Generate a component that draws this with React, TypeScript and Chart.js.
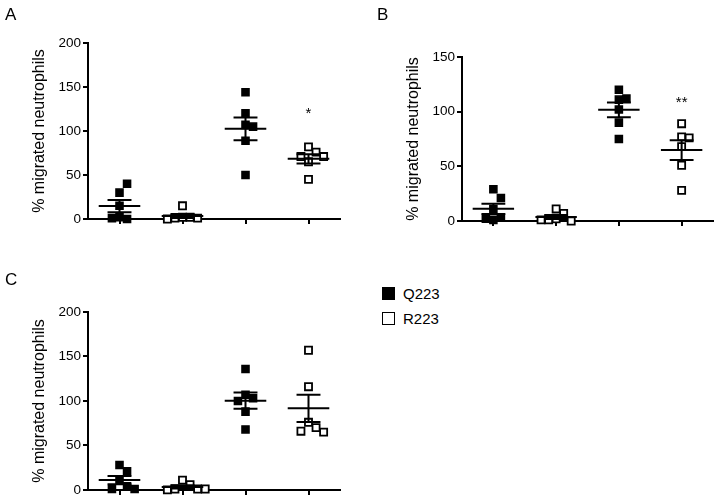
import React, { useEffect, useRef } from 'react';
import { Chart, registerables } from 'chart.js';

Chart.register(...registerables);

const FONT = '"Liberation Sans", Arial, Helvetica, sans-serif';

// Four groups per panel; genotype of each group (no x labels in the figure)
const groupGenotype = ['Q223', 'R223', 'Q223', 'R223'];

// Panel A values (% migrated neutrophils)
const A_g1 = [30, 40, 15, 2, 0, 1];
const A_g2 = [15, 2, 2, 1, 1, 0];
const A_g3 = [144, 120, 107, 105, 89, 50];
const A_g4 = [82, 76, 71, 71, 65, 45];

// Panel B values
const B_g1 = [29, 21, 11, 3, 1, 2];
const B_g2 = [11, 7, 2, 1, 0, 1];
const B_g3 = [120, 112, 111, 102, 90, 75];
const B_g4 = [89, 77, 76, 68, 51, 28];

// Panel C values
const C_g1 = [28, 21, 11, 4, 1, 1];
const C_g2 = [11, 6, 1, 1, 0, 1];
const C_g3 = [136, 107, 103, 100, 88, 68];
const C_g4 = [157, 116, 76, 70, 66, 65];

// Y axis maxima / steps
const yMaxA = 200;
const yMaxB = 150;
const yMaxC = 200;
const yStep = 50;

// Significance marks (label and value level) per group
const sigA = ['', '', '', '*'];
const sigLevelA = [0, 0, 0, 123];
const sigB = ['', '', '', '**'];
const sigLevelB = [0, 0, 0, 111];
const sigC = ['', '', '', ''];
const sigLevelC = [0, 0, 0, 0];

const legendItems = ['Q223', 'R223'];

function swarm(values: number[], center: number, thr: number, step: number) {
  const placed: { x: number; y: number }[] = [];
  const order = [0, 1, -1, 2, -2, 3, -3, 4, -4];
  for (const v of values) {
    for (const k of order) {
      const x = center + k * step;
      const hit = placed.some((p) => Math.abs(p.y - v) < thr && Math.abs(p.x - x) < step * 0.9);
      if (!hit) {
        placed.push({ x, y: v });
        break;
      }
    }
  }
  return placed;
}

function mean(a: number[]) {
  return a.reduce((s, v) => s + v, 0) / a.length;
}
function sem(a: number[]) {
  const m = mean(a);
  const v = a.reduce((s, x) => s + (x - m) * (x - m), 0) / (a.length - 1);
  return Math.sqrt(v) / Math.sqrt(a.length);
}

type PanelProps = {
  groups: number[][];
  yMax: number;
  sig: string[];
  sigLevel: number[];
  left: number;
  top: number;
  width: number;
  height: number;
  padding: { top: number; right: number; bottom: number; left: number };
};

function Panel({ groups, yMax, sig, sigLevel, left, top, width, height, padding }: PanelProps) {
  const ref = useRef<HTMLCanvasElement>(null);
  useEffect(() => {
    if (!ref.current) return;
    const thr = yMax * 0.06;
    const step = 0.12;
    const datasets = ['Q223', 'R223'].map((g) => {
      const pts: { x: number; y: number }[] = [];
      groups.forEach((vals, i) => {
        if (groupGenotype[i] === g) pts.push(...swarm(vals, i, thr, step));
      });
      const filled = g === 'Q223';
      return {
        label: g,
        data: pts,
        pointStyle: 'rect' as const,
        pointRadius: 5,
        pointHoverRadius: 5,
        backgroundColor: filled ? '#000' : '#fff',
        borderColor: '#000',
        borderWidth: filled ? 1.5 : 1.8,
        clip: false as const,
      };
    });

    const meanSem = {
      id: 'meanSem',
      afterDatasetsDraw(chart: any) {
        const { ctx } = chart;
        const xs = chart.scales.x;
        const ys = chart.scales.y;
        ctx.save();
        ctx.strokeStyle = '#000';
        ctx.lineWidth = 2;
        groups.forEach((vals, i) => {
          const m = mean(vals);
          const s = sem(vals);
          const cx = xs.getPixelForValue(i);
          const hw = xs.getPixelForValue(i + 0.33) - cx;
          const cw = xs.getPixelForValue(i + 0.19) - cx;
          const ym = ys.getPixelForValue(m);
          const yh = ys.getPixelForValue(m + s);
          const yl = ys.getPixelForValue(Math.max(m - s, 0));
          ctx.beginPath();
          ctx.moveTo(cx - hw, ym);
          ctx.lineTo(cx + hw, ym);
          ctx.moveTo(cx - cw, yh);
          ctx.lineTo(cx + cw, yh);
          ctx.moveTo(cx - cw, yl);
          ctx.lineTo(cx + cw, yl);
          ctx.moveTo(cx, yh);
          ctx.lineTo(cx, yl);
          ctx.stroke();
        });
        ctx.fillStyle = '#000';
        ctx.font = `15px ${FONT}`;
        ctx.textAlign = 'center';
        ctx.textBaseline = 'middle';
        sig.forEach((t, i) => {
          if (!t) return;
          ctx.fillText(t, xs.getPixelForValue(i), ys.getPixelForValue(sigLevel[i]) + 3);
        });
        ctx.restore();
      },
    };

    const chart = new Chart(ref.current, {
      type: 'scatter',
      data: { datasets },
      options: {
        animation: false,
        responsive: false,
        events: [],
        layout: { padding },
        plugins: { legend: { display: false }, tooltip: { enabled: false } },
        scales: {
          x: {
            type: 'linear',
            min: -0.5,
            max: 3.5,
            afterBuildTicks: (axis: any) => {
              axis.ticks = groupGenotype.map((_, i) => ({ value: i }));
            },
            afterFit: (s: any) => {
              s.height = 8;
            },
            ticks: { display: false },
            grid: {
              display: true,
              drawOnChartArea: false,
              drawTicks: true,
              tickLength: 5,
              color: '#000',
              lineWidth: 2,
            },
            border: { display: true, color: '#000', width: 2 },
          },
          y: {
            type: 'linear',
            min: 0,
            max: yMax,
            ticks: {
              stepSize: yStep,
              color: '#000',
              padding: 2,
              font: { family: FONT, size: 13.5 },
            },
            afterFit: (s: any) => {
              s.width = 88;
            },
            grid: {
              display: true,
              drawOnChartArea: false,
              drawTicks: true,
              tickLength: 5,
              color: '#000',
              lineWidth: 2,
            },
            border: { display: true, color: '#000', width: 2 },
            title: {
              display: true,
              text: '% migrated neutrophils',
              color: '#000',
              font: { family: FONT, size: 16 },
              padding: { top: 30, bottom: 0 },
            },
          },
        },
      },
      plugins: [meanSem],
    } as any);
    return () => chart.destroy();
  }, []);
  return (
    <canvas
      ref={ref}
      width={width}
      height={height}
      style={{ position: 'absolute', left, top, width, height }}
    />
  );
}

const labelStyle = (left: number, top: number): React.CSSProperties => ({
  position: 'absolute',
  left,
  top,
  fontFamily: FONT,
  fontSize: 17,
  lineHeight: 1,
  color: '#000',
});

export default function App() {
  useEffect(() => {
    document.body.style.margin = '0';
  }, []);
  return (
    <div style={{ position: 'relative', width: 720, height: 500, background: '#fff', overflow: 'hidden' }}>
      <Panel
        groups={[A_g1, A_g2, A_g3, A_g4]}
        yMax={yMaxA}
        sig={sigA}
        sigLevel={sigLevelA}
        left={0}
        top={0}
        width={360}
        height={250}
        padding={{ top: 43, right: 20, bottom: 23, left: 0 }}
      />
      <Panel
        groups={[B_g1, B_g2, B_g3, B_g4]}
        yMax={yMaxB}
        sig={sigB}
        sigLevel={sigLevelB}
        left={374}
        top={0}
        width={346}
        height={250}
        padding={{ top: 57, right: 7, bottom: 21, left: 0 }}
      />
      <Panel
        groups={[C_g1, C_g2, C_g3, C_g4]}
        yMax={yMaxC}
        sig={sigC}
        sigLevel={sigLevelC}
        left={0}
        top={250}
        width={360}
        height={250}
        padding={{ top: 62, right: 20, bottom: 2, left: 0 }}
      />
      <div style={labelStyle(5, 6)}>A</div>
      <div style={labelStyle(377, 6)}>B</div>
      <div style={labelStyle(5, 271)}>C</div>
      {legendItems.map((name, i) => (
        <div
          key={name}
          style={{
            position: 'absolute',
            left: 382,
            top: 286 + i * 25,
            height: 14,
            display: 'flex',
            alignItems: 'center',
            fontFamily: FONT,
            fontSize: 15,
            color: '#000',
          }}
        >
          <span
            style={{
              display: 'inline-block',
              boxSizing: 'border-box',
              width: 13,
              height: 13,
              background: i === 0 ? '#000' : '#fff',
              border: '1.5px solid #000',
              marginRight: 8,
            }}
          />
          <span>{name}</span>
        </div>
      ))}
    </div>
  );
}
